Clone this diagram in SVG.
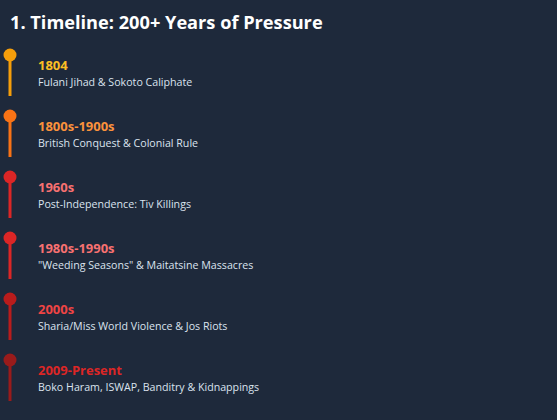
<svg xmlns="http://www.w3.org/2000/svg" width="557" height="420" viewBox="0 0 557 420">
<style>
.title{font-family:"Open Sans","Noto Sans",sans-serif;font-weight:700;font-size:18.2px;fill:#ffffff}
.yr{font-family:"Open Sans","Noto Sans",sans-serif;font-weight:700;font-size:13px}
.desc{font-family:"Open Sans","Noto Sans",sans-serif;font-size:10.65px;fill:#dbe3ee}
</style>
<rect width="557" height="420" fill="#1e293b"/>
<text class="title" x="10" y="29">1. Timeline: 200+ Years of Pressure</text>
<g id="connectors">
<line x1="10" y1="55" x2="10" y2="96" stroke="#f59e0b" stroke-width="3"/>
<line x1="10" y1="116" x2="10" y2="157" stroke="#f97316" stroke-width="3"/>
<line x1="10" y1="177" x2="10" y2="218" stroke="#dc2626" stroke-width="3"/>
<line x1="10" y1="238" x2="10" y2="279" stroke="#dc2626" stroke-width="3"/>
<line x1="10" y1="299" x2="10" y2="340" stroke="#b91c1c" stroke-width="3"/>
<line x1="10" y1="360" x2="10" y2="401" stroke="#991b1b" stroke-width="3"/>
</g>
<g id="n1804"><circle cx="10" cy="55" r="6.5" fill="#f59e0b"/><text class="yr" x="38" y="69.5" fill="#fbbf24">1804</text><text class="desc" x="38" y="85.5">Fulani Jihad &amp; Sokoto Caliphate</text></g>
<g id="n1800s"><circle cx="10" cy="116" r="6.5" fill="#f97316"/><text class="yr" x="38" y="130.5" fill="#fb923c">1800s-1900s</text><text class="desc" x="38" y="146.5">British Conquest &amp; Colonial Rule</text></g>
<g id="n1960s"><circle cx="10" cy="177" r="6.5" fill="#dc2626"/><text class="yr" x="38" y="191.5" fill="#f87171">1960s</text><text class="desc" x="38" y="207.5">Post-Independence: Tiv Killings</text></g>
<g id="n1980s"><circle cx="10" cy="238" r="6.5" fill="#dc2626"/><text class="yr" x="38" y="252.5" fill="#f87171">1980s-1990s</text><text class="desc" x="38" y="268.5">"Weeding Seasons" &amp; Maitatsine Massacres</text></g>
<g id="n2000s"><circle cx="10" cy="299" r="6.5" fill="#b91c1c"/><text class="yr" x="38" y="313.5" fill="#ef4444">2000s</text><text class="desc" x="38" y="329.5">Sharia/Miss World Violence &amp; Jos Riots</text></g>
<g id="n2009"><circle cx="10" cy="360" r="6.5" fill="#991b1b"/><text class="yr" x="38" y="374.5" fill="#dc2626">2009-Present</text><text class="desc" x="38" y="390.5">Boko Haram, ISWAP, Banditry &amp; Kidnappings</text></g>
</svg>
